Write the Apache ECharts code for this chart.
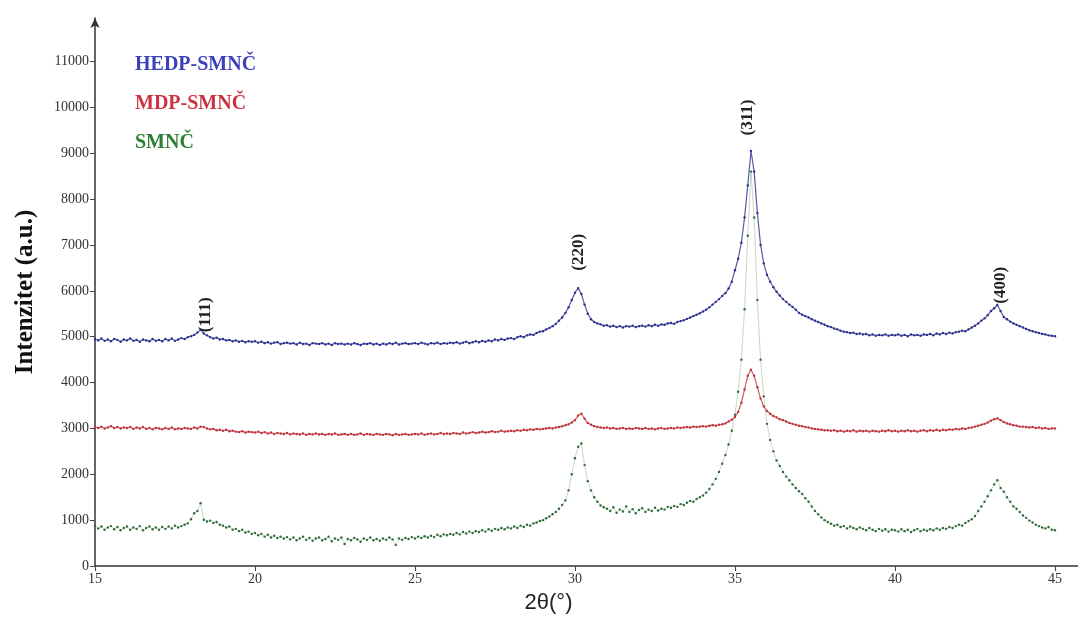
<!DOCTYPE html>
<html>
<head>
<meta charset="utf-8">
<script src="https://cdn.jsdelivr.net/npm/echarts@6/dist/echarts.min.js"></script>
<style>
html,body{margin:0;padding:0;background:#fff;}
#chart{width:1078px;height:621px;}
</style>
</head>
<body>
<div id="chart"></div>
<script>
// Sampling grid of 2θ (degrees)
const thetaStart = 15.0;
const thetaStep = 0.1;

// Series names
const seriesNames = ['HEDP-SMNČ', 'MDP-SMNČ', 'SMNČ'];

// Intensities (a.u.), one value per 0.1° from 15.0 to 45.0
const hedpSmnc = [
  4950,4920,4960,4910,4940,4900,4950,4930,4890,4940,
  4920,4960,4910,4930,4890,4940,4920,4900,4950,4910,
  4930,4900,4950,4920,4960,4910,4940,4970,4950,4990,
  5010,5040,5090,5150,5070,5030,4990,4960,4980,4940,
  4950,4920,4930,4900,4920,4890,4910,4880,4900,4890,
  4900,4870,4890,4860,4880,4850,4870,4880,4840,4860,
  4870,4850,4860,4830,4870,4840,4850,4820,4860,4850,
  4840,4860,4830,4850,4820,4860,4840,4850,4830,4850,
  4830,4860,4840,4820,4850,4840,4860,4830,4850,4820,
  4850,4830,4860,4840,4870,4830,4850,4860,4840,4850,
  4860,4840,4870,4850,4830,4860,4850,4870,4840,4860,
  4850,4870,4860,4880,4850,4870,4890,4860,4880,4900,
  4880,4910,4890,4920,4900,4940,4920,4950,4930,4960,
  4970,4950,4990,5010,4990,5030,5050,5040,5080,5110,
  5120,5160,5190,5230,5280,5350,5420,5520,5640,5800,
  5960,6060,5930,5700,5500,5380,5320,5290,5270,5240,
  5250,5220,5240,5210,5230,5200,5230,5220,5240,5210,
  5230,5240,5220,5250,5230,5260,5240,5270,5260,5290,
  5300,5280,5320,5340,5360,5390,5420,5450,5480,5510,
  5550,5590,5640,5700,5760,5820,5890,5950,6050,6200,
  6450,6700,7050,7600,8300,9050,8600,7700,7000,6600,
  6350,6200,6080,5980,5900,5820,5760,5700,5650,5590,
  5520,5480,5450,5420,5380,5350,5320,5290,5260,5230,
  5210,5180,5160,5130,5110,5100,5080,5090,5060,5070,
  5050,5060,5030,5050,5020,5040,5030,5050,5020,5040,
  5030,5050,5020,5040,5010,5050,5030,5040,5020,5050,
  5040,5060,5030,5070,5050,5080,5060,5090,5070,5100,
  5110,5130,5120,5160,5200,5240,5290,5350,5400,5470,
  5560,5620,5690,5560,5430,5380,5330,5290,5260,5230,
  5200,5170,5140,5120,5100,5080,5060,5050,5030,5020,
  5010
];

const mdpSmnc = [
  3030,3010,3040,3000,3020,3050,3010,3030,3000,3020,
  3010,3030,2990,3020,3000,3030,2990,3010,2980,3010,
  3000,2980,3010,2990,3020,2980,3000,2990,3010,3000,
  2990,3020,3000,3040,3030,3000,2980,2990,2960,2970,
  2950,2970,2940,2950,2930,2920,2940,2910,2930,2920,
  2910,2930,2900,2920,2890,2910,2880,2900,2890,2880,
  2900,2870,2890,2880,2870,2890,2860,2880,2870,2890,
  2870,2880,2860,2880,2870,2890,2860,2870,2880,2860,
  2880,2860,2870,2890,2860,2880,2870,2860,2880,2870,
  2860,2880,2870,2850,2880,2860,2870,2880,2860,2870,
  2880,2870,2890,2860,2880,2890,2870,2880,2900,2880,
  2890,2880,2900,2890,2880,2910,2890,2900,2920,2900,
  2910,2930,2910,2920,2940,2920,2930,2950,2930,2940,
  2950,2940,2960,2950,2970,2960,2980,2970,2990,2980,
  2990,3000,3010,3000,3020,3030,3050,3070,3090,3130,
  3180,3280,3320,3210,3120,3080,3050,3030,3020,3010,
  3020,3000,3010,2990,3000,3010,2990,3000,2990,3010,
  3000,2990,3010,2990,3000,2980,3000,3010,2990,3000,
  3010,3000,3020,3010,3020,3030,3020,3040,3030,3040,
  3050,3040,3060,3070,3060,3080,3090,3110,3150,3190,
  3250,3360,3560,3850,4150,4280,4150,3900,3650,3480,
  3380,3320,3270,3240,3200,3180,3150,3120,3100,3080,
  3060,3050,3030,3020,3000,2990,2980,2970,2960,2960,
  2950,2960,2940,2950,2930,2950,2940,2960,2930,2950,
  2940,2950,2930,2950,2940,2930,2950,2940,2960,2940,
  2950,2930,2950,2940,2960,2940,2950,2930,2950,2960,
  2940,2960,2950,2970,2950,2970,2960,2980,2970,2990,
  2980,3000,2990,3010,3020,3040,3060,3080,3100,3130,
  3170,3200,3220,3180,3140,3110,3090,3070,3060,3040,
  3040,3030,3020,3030,3010,3020,3000,3010,2990,3000,
  3000
];

const smnc = [
  880,820,860,790,840,870,800,850,780,830,
  860,790,840,810,870,780,830,860,800,840,
  790,850,810,860,820,880,840,870,900,930,
  1020,1150,1200,1370,1010,970,990,940,960,900,
  880,840,860,790,810,760,790,730,750,700,
  720,670,700,640,680,620,660,610,640,600,
  630,580,620,560,600,640,570,610,550,600,
  620,560,590,640,540,600,570,620,480,590,
  560,610,580,530,600,570,620,560,590,550,
  600,570,620,580,460,600,570,610,590,630,
  600,640,610,650,620,660,630,680,650,690,
  670,700,680,720,690,740,710,750,720,760,
  740,780,750,800,770,810,790,830,800,840,
  820,860,830,880,850,900,880,930,950,980,
  1000,1040,1080,1130,1180,1250,1330,1430,1650,2000,
  2350,2600,2670,2200,1850,1650,1500,1400,1320,1280,
  1250,1200,1280,1160,1230,1190,1300,1180,1240,1150,
  1220,1260,1180,1230,1200,1270,1210,1250,1230,1290,
  1270,1310,1290,1350,1330,1380,1420,1400,1460,1500,
  1540,1600,1680,1780,1900,2050,2230,2420,2650,2950,
  3300,3800,4500,5600,7200,8600,7600,5800,4500,3700,
  3100,2750,2500,2300,2180,2050,1950,1870,1780,1700,
  1630,1570,1480,1400,1300,1200,1130,1060,1000,960,
  920,880,900,850,870,820,860,830,800,840,
  810,780,830,790,760,810,770,800,750,790,
  780,750,800,760,790,740,780,810,760,790,
  770,800,780,820,790,830,810,850,830,870,
  900,880,940,980,1020,1090,1200,1300,1400,1520,
  1650,1780,1870,1700,1620,1500,1400,1300,1250,1180,
  1100,1050,990,950,900,870,840,820,850,790,
  780
];

// Peak (Miller index) annotations
const peakLabels = ['(111)', '(220)', '(311)', '(400)'];
const peakTheta = [18.45, 30.1, 35.4, 43.3];
const peakIntensity = [5480, 6840, 9780, 6120];

// Axis ticks
const xTicks = [15, 20, 25, 30, 35, 40, 45];
const yTicks = [0, 1000, 2000, 3000, 4000, 5000, 6000, 7000, 8000, 9000, 10000, 11000];

function pairs(arr) {
  return arr.map((v, i) => [+(thetaStart + i * thetaStep).toFixed(2), v]);
}

const dotColors = ['#2c2f8f', '#c0343f', '#2e6b36'];
const legendColors = ['#3b41b8', '#cc3340', '#2a7f34'];
const allSeries = [hedpSmnc, mdpSmnc, smnc];

const chart = echarts.init(document.getElementById('chart'), null, {renderer: 'canvas'});

const serif = '"Liberation Serif", "DejaVu Serif", serif';

const option = {
  animation: false,
  backgroundColor: '#ffffff',
  grid: {left: 95, right: 0, top: 18, bottom: 55, containLabel: false},
  legend: {
    orient: 'vertical',
    left: 125,
    top: 50,
    itemWidth: 0,
    itemHeight: 20,
    itemGap: 19,
    icon: 'none',
    selectedMode: false,
    data: seriesNames.map((n, i) => ({
      name: n,
      icon: 'none',
      textStyle: {color: legendColors[i], fontFamily: serif, fontWeight: 'bold', fontSize: 20}
    }))
  },
  xAxis: {
    type: 'value',
    min: 15,
    max: 45.72,
    name: '2θ(°)',
    nameLocation: 'middle',
    nameGap: 26,
    nameTextStyle: {fontFamily: '"Liberation Sans", Arial, sans-serif', fontSize: 22, color: '#222', padding: [0, 76, 0, 0]},
    axisLine: {lineStyle: {color: '#333', width: 1.5}},
    axisTick: {show: true, length: 5, customValues: xTicks, lineStyle: {color: '#444'}},
    axisLabel: {customValues: xTicks, formatter: v => String(v), fontFamily: serif, fontSize: 14, color: '#333', margin: 6},
    splitLine: {show: false}
  },
  yAxis: {
    type: 'value',
    min: 0,
    max: 11950,
    name: 'Intenzitet (a.u.)',
    nameLocation: 'middle',
    nameRotate: 90,
    nameGap: 57,
    nameTextStyle: {fontFamily: serif, fontSize: 25, fontWeight: 'bold', color: '#111'},
    axisLine: {show: true, symbol: ['none', 'arrow'], symbolSize: [7, 10], lineStyle: {color: '#333', width: 1.5}},
    axisTick: {show: true, length: 5, customValues: yTicks, lineStyle: {color: '#444'}},
    axisLabel: {customValues: yTicks, formatter: v => String(v), fontFamily: serif, fontSize: 14, color: '#333', margin: 6},
    splitLine: {show: false}
  },
  series: allSeries.map((arr, i) => ({
    name: seriesNames[i],
    type: 'line',
    data: pairs(arr),
    showSymbol: true,
    showAllSymbol: true,
    symbol: 'circle',
    symbolSize: 2.4,
    itemStyle: {color: dotColors[i]},
    lineStyle: {color: dotColors[i], width: i === 2 ? 0.6 : 1.2, opacity: i === 2 ? 0.45 : 0.8},
    z: 3 - i
  })).concat([{
    name: 'peaks',
    type: 'scatter',
    symbol: 'circle',
    symbolSize: 2,
    itemStyle: {color: 'rgba(255,255,255,0)'},
    silent: true,
    data: peakLabels.map((t, i) => ({value: [peakTheta[i], peakIntensity[i]], name: t})),
    label: {
      show: true,
      position: 'inside',
      rotate: 90,
      formatter: p => p.name,
      fontFamily: serif,
      fontWeight: 'bold',
      fontSize: 17,
      color: '#222',
      opacity: 1
    },
    labelLayout: {hideOverlap: false},
    z: 5
  }])
};

chart.setOption(option);
</script>
</body>
</html>
